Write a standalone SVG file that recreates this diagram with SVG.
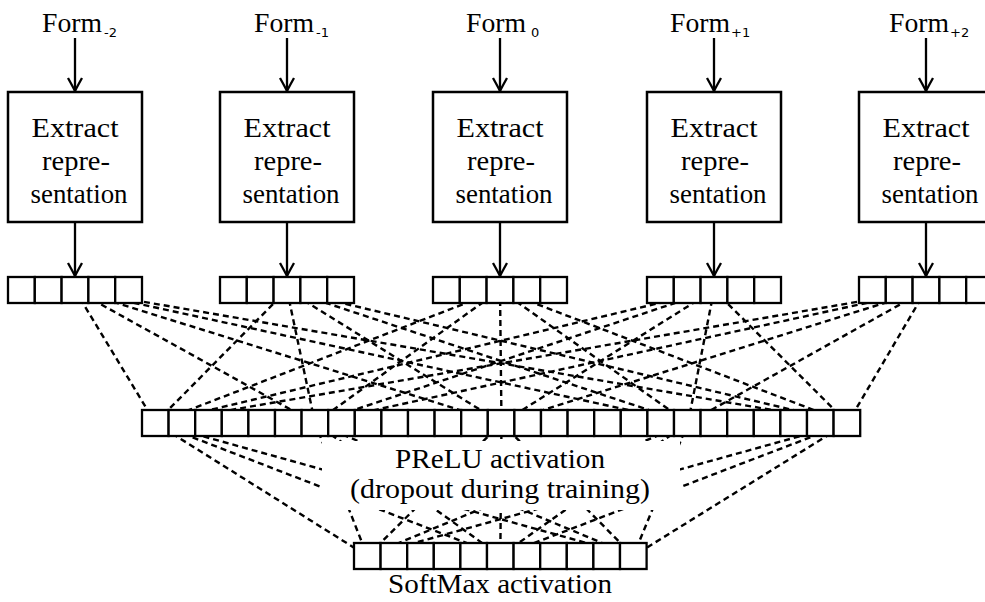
<svg xmlns="http://www.w3.org/2000/svg" width="985" height="602" viewBox="0 0 985 602">
  <style>
    .box { fill: #fff; stroke: #000; stroke-width: 2.5; }
    .cell { fill: #fff; stroke: #000; stroke-width: 2.3; }
    .arrow { stroke: #000; stroke-width: 2.3; fill: none; marker-end: url(#head); }
    .dash { stroke: #000; stroke-width: 2.4; stroke-dasharray: 6 4; fill: none; }
    text { font-family: "Liberation Serif", "Times New Roman", serif; fill: #000; }
    .t { font-size: 27px; }
    .b { font-size: 28px; text-anchor: middle; }
    .sub { font-family: "DejaVu Sans", "Liberation Sans", sans-serif; font-size: 13px; }
    .mid { text-anchor: middle; }
  </style>
  <defs>
    <marker id="head" markerUnits="userSpaceOnUse" markerWidth="20" markerHeight="20" refX="0" refY="0" orient="auto" overflow="visible">
      <path d="M -13 -7 Q -4 -2 0 0 Q -4 2 -13 7" fill="none" stroke="#000" stroke-width="2.3"/>
    </marker>
    <g id="row5">
      <rect class="cell" x="0" y="0" width="26.8" height="26"/>
      <rect class="cell" x="26.8" y="0" width="26.8" height="26"/>
      <rect class="cell" x="53.6" y="0" width="26.8" height="26"/>
      <rect class="cell" x="80.4" y="0" width="26.8" height="26"/>
      <rect class="cell" x="107.2" y="0" width="26.8" height="26"/>
    </g>
  </defs>

  <!-- dashed connections: input groups to hidden layer, hidden layer to output -->
  <g id="connectors">
    <g class="dash">
      <line x1="75" y1="290" x2="155.3" y2="423"/>
      <line x1="75" y1="290" x2="315" y2="423"/>
      <line x1="75" y1="290" x2="501.5" y2="423"/>
      <line x1="75" y1="290" x2="688" y2="423"/>
      <line x1="75" y1="290" x2="847.7" y2="423"/>

      <line x1="287" y1="290" x2="155.3" y2="423"/>
      <line x1="287" y1="290" x2="315" y2="423"/>
      <line x1="287" y1="290" x2="501.5" y2="423"/>
      <line x1="287" y1="290" x2="688" y2="423"/>
      <line x1="287" y1="290" x2="847.7" y2="423"/>

      <line x1="500" y1="290" x2="155.3" y2="423"/>
      <line x1="500" y1="290" x2="315" y2="423"/>
      <line x1="500" y1="290" x2="501.5" y2="423"/>
      <line x1="500" y1="290" x2="688" y2="423"/>
      <line x1="500" y1="290" x2="847.7" y2="423"/>

      <line x1="714" y1="290" x2="155.3" y2="423"/>
      <line x1="714" y1="290" x2="315" y2="423"/>
      <line x1="714" y1="290" x2="501.5" y2="423"/>
      <line x1="714" y1="290" x2="688" y2="423"/>
      <line x1="714" y1="290" x2="847.7" y2="423"/>

      <line x1="926" y1="290" x2="155.3" y2="423"/>
      <line x1="926" y1="290" x2="315" y2="423"/>
      <line x1="926" y1="290" x2="501.5" y2="423"/>
      <line x1="926" y1="290" x2="688" y2="423"/>
      <line x1="926" y1="290" x2="847.7" y2="423"/>

      <line x1="155.3" y1="423" x2="367.3" y2="556"/>
      <line x1="155.3" y1="423" x2="500.3" y2="556"/>
      <line x1="155.3" y1="423" x2="633.3" y2="556"/>
      <line x1="315" y1="423" x2="367.3" y2="556"/>
      <line x1="315" y1="423" x2="500.3" y2="556"/>
      <line x1="315" y1="423" x2="633.3" y2="556"/>
      <line x1="501.5" y1="423" x2="367.3" y2="556"/>
      <line x1="501.5" y1="423" x2="500.3" y2="556"/>
      <line x1="501.5" y1="423" x2="633.3" y2="556"/>
      <line x1="688" y1="423" x2="367.3" y2="556"/>
      <line x1="688" y1="423" x2="500.3" y2="556"/>
      <line x1="688" y1="423" x2="633.3" y2="556"/>
      <line x1="847.7" y1="423" x2="367.3" y2="556"/>
      <line x1="847.7" y1="423" x2="500.3" y2="556"/>
      <line x1="847.7" y1="423" x2="633.3" y2="556"/>
    </g>
    <!-- solid arrows: word form -> extractor -> vector -->
    <line class="arrow" x1="75" y1="38" x2="75" y2="91"/>
    <line class="arrow" x1="75" y1="222" x2="75" y2="276"/>
    <line class="arrow" x1="287" y1="38" x2="287" y2="91"/>
    <line class="arrow" x1="287" y1="222" x2="287" y2="276"/>
    <line class="arrow" x1="500" y1="38" x2="500" y2="91"/>
    <line class="arrow" x1="500" y1="222" x2="500" y2="276"/>
    <line class="arrow" x1="714" y1="38" x2="714" y2="91"/>
    <line class="arrow" x1="714" y1="222" x2="714" y2="276"/>
    <line class="arrow" x1="926" y1="38" x2="926" y2="91"/>
    <line class="arrow" x1="926" y1="222" x2="926" y2="276"/>
  </g>

  <!-- input word positions -->
  <g id="input-m2">
    <text class="t" x="42" y="32" textLength="60" lengthAdjust="spacingAndGlyphs">Form</text>
    <text class="sub" x="104" y="37">-2</text>
    <rect class="box" x="8" y="92" width="134" height="130"/>
    <text class="b" x="75" y="137" textLength="87" lengthAdjust="spacingAndGlyphs">Extract</text>
    <text class="b" x="76" y="170" textLength="68" lengthAdjust="spacingAndGlyphs">repre-</text>
    <text class="b" x="79" y="203" textLength="97" lengthAdjust="spacingAndGlyphs">sentation</text>
    <use href="#row5" x="8" y="277"/>
  </g>
  <g id="input-m1">
    <text class="t" x="254" y="32" textLength="60" lengthAdjust="spacingAndGlyphs">Form</text>
    <text class="sub" x="316" y="37">-1</text>
    <rect class="box" x="220" y="92" width="134" height="130"/>
    <text class="b" x="287" y="137" textLength="87" lengthAdjust="spacingAndGlyphs">Extract</text>
    <text class="b" x="288" y="170" textLength="68" lengthAdjust="spacingAndGlyphs">repre-</text>
    <text class="b" x="291" y="203" textLength="97" lengthAdjust="spacingAndGlyphs">sentation</text>
    <use href="#row5" x="220" y="277"/>
  </g>
  <g id="input-0">
    <text class="t" x="466" y="32" textLength="60" lengthAdjust="spacingAndGlyphs">Form</text>
    <text class="sub" x="531" y="37">0</text>
    <rect class="box" x="433" y="92" width="134" height="130"/>
    <text class="b" x="500" y="137" textLength="87" lengthAdjust="spacingAndGlyphs">Extract</text>
    <text class="b" x="501" y="170" textLength="68" lengthAdjust="spacingAndGlyphs">repre-</text>
    <text class="b" x="504" y="203" textLength="97" lengthAdjust="spacingAndGlyphs">sentation</text>
    <use href="#row5" x="433" y="277"/>
  </g>
  <g id="input-p1">
    <text class="t" x="670" y="32" textLength="60" lengthAdjust="spacingAndGlyphs">Form</text>
    <text class="sub" x="731" y="37">+1</text>
    <rect class="box" x="647" y="92" width="134" height="130"/>
    <text class="b" x="714" y="137" textLength="87" lengthAdjust="spacingAndGlyphs">Extract</text>
    <text class="b" x="715" y="170" textLength="68" lengthAdjust="spacingAndGlyphs">repre-</text>
    <text class="b" x="718" y="203" textLength="97" lengthAdjust="spacingAndGlyphs">sentation</text>
    <use href="#row5" x="647" y="277"/>
  </g>
  <g id="input-p2">
    <text class="t" x="889" y="32" textLength="60" lengthAdjust="spacingAndGlyphs">Form</text>
    <text class="sub" x="950" y="37">+2</text>
    <rect class="box" x="859" y="92" width="134" height="130"/>
    <text class="b" x="926" y="137" textLength="87" lengthAdjust="spacingAndGlyphs">Extract</text>
    <text class="b" x="927" y="170" textLength="68" lengthAdjust="spacingAndGlyphs">repre-</text>
    <text class="b" x="930" y="203" textLength="97" lengthAdjust="spacingAndGlyphs">sentation</text>
    <use href="#row5" x="859" y="277"/>
  </g>

  <!-- hidden layer: 27 units -->
  <g id="hidden">
    <rect class="cell" x="142" y="410" width="26.6" height="26"/>
    <rect class="cell" x="168.6" y="410" width="26.6" height="26"/>
    <rect class="cell" x="195.2" y="410" width="26.6" height="26"/>
    <rect class="cell" x="221.8" y="410" width="26.6" height="26"/>
    <rect class="cell" x="248.4" y="410" width="26.6" height="26"/>
    <rect class="cell" x="275" y="410" width="26.6" height="26"/>
    <rect class="cell" x="301.6" y="410" width="26.6" height="26"/>
    <rect class="cell" x="328.2" y="410" width="26.6" height="26"/>
    <rect class="cell" x="354.8" y="410" width="26.6" height="26"/>
    <rect class="cell" x="381.4" y="410" width="26.6" height="26"/>
    <rect class="cell" x="408" y="410" width="26.6" height="26"/>
    <rect class="cell" x="434.6" y="410" width="26.6" height="26"/>
    <rect class="cell" x="461.2" y="410" width="26.6" height="26"/>
    <rect class="cell" x="487.8" y="410" width="26.6" height="26"/>
    <rect class="cell" x="514.4" y="410" width="26.6" height="26"/>
    <rect class="cell" x="541" y="410" width="26.6" height="26"/>
    <rect class="cell" x="567.6" y="410" width="26.6" height="26"/>
    <rect class="cell" x="594.2" y="410" width="26.6" height="26"/>
    <rect class="cell" x="620.8" y="410" width="26.6" height="26"/>
    <rect class="cell" x="647.4" y="410" width="26.6" height="26"/>
    <rect class="cell" x="674" y="410" width="26.6" height="26"/>
    <rect class="cell" x="700.6" y="410" width="26.6" height="26"/>
    <rect class="cell" x="727.2" y="410" width="26.6" height="26"/>
    <rect class="cell" x="753.8" y="410" width="26.6" height="26"/>
    <rect class="cell" x="780.4" y="410" width="26.6" height="26"/>
    <rect class="cell" x="807" y="410" width="26.6" height="26"/>
    <rect class="cell" x="833.6" y="410" width="26.6" height="26"/>
    <rect x="322" y="441" width="358" height="69" fill="#fff"/>
    <text class="t mid" x="500" y="468" textLength="210" lengthAdjust="spacingAndGlyphs">PReLU activation</text>
    <text class="t mid" x="500" y="498" textLength="300" lengthAdjust="spacingAndGlyphs">(dropout during training)</text>
  </g>

  <!-- output layer: 11 units -->
  <g id="output">
    <rect class="cell" x="354" y="543" width="26.6" height="26"/>
    <rect class="cell" x="380.6" y="543" width="26.6" height="26"/>
    <rect class="cell" x="407.2" y="543" width="26.6" height="26"/>
    <rect class="cell" x="433.8" y="543" width="26.6" height="26"/>
    <rect class="cell" x="460.4" y="543" width="26.6" height="26"/>
    <rect class="cell" x="487" y="543" width="26.6" height="26"/>
    <rect class="cell" x="513.6" y="543" width="26.6" height="26"/>
    <rect class="cell" x="540.2" y="543" width="26.6" height="26"/>
    <rect class="cell" x="566.8" y="543" width="26.6" height="26"/>
    <rect class="cell" x="593.4" y="543" width="26.6" height="26"/>
    <rect class="cell" x="620" y="543" width="26.6" height="26"/>
    <text class="t mid" x="500" y="593" textLength="224" lengthAdjust="spacingAndGlyphs">SoftMax activation</text>
  </g>
</svg>
